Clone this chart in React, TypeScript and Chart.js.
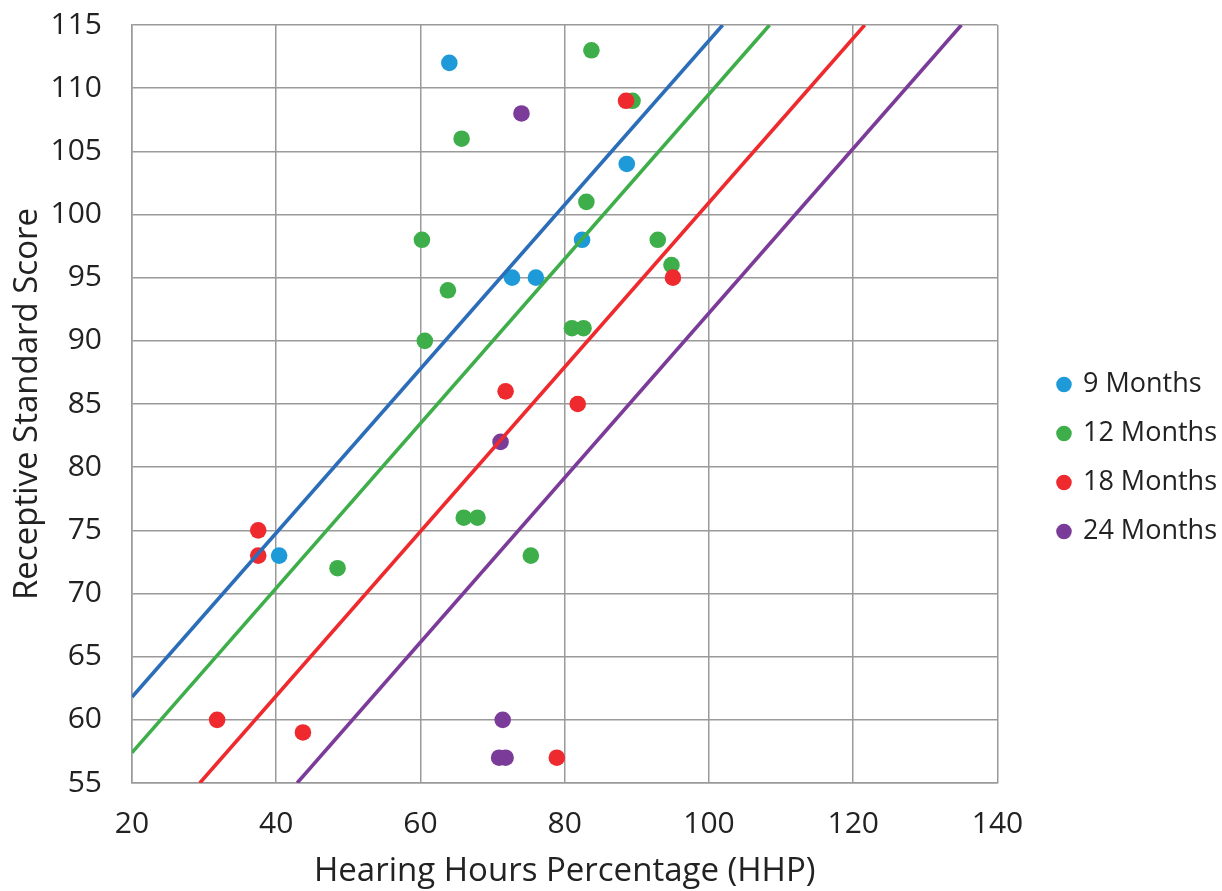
import React, { useEffect, useRef } from "react";
import { Chart, registerables } from "chart.js";

Chart.register(...registerables);

const seriesNames = ["9 Months", "12 Months", "18 Months", "24 Months"];
const pointColors = ["#1E9AD8", "#3DAE49", "#EE2A2E", "#7B3B98"];
const lineColors = ["#2B6DB8", "#3DAE49", "#EE2A2E", "#7B3B98"];

const hhp9 = [64, 88.6, 82.4, 72.7, 76, 40.4];
const score9 = [112, 104, 98, 95, 95, 73];

const hhp12 = [83.7, 89.4, 65.7, 83, 60.2, 92.9, 94.8, 63.8, 81, 82.6, 60.6, 66, 67.9, 48.5, 75.3];
const score12 = [113, 109, 106, 101, 98, 98, 96, 94, 91, 91, 90, 76, 76, 72, 73];

const hhp18 = [88.5, 95, 71.8, 81.8, 37.5, 37.5, 31.8, 43.7, 78.9];
const score18 = [109, 95, 86, 85, 75, 73, 60, 59, 57];

const hhp24 = [74, 71.1, 71.4, 70.9, 71.8];
const score24 = [108, 82, 60, 57, 57];

// trend line endpoints (HHP, score)
const trendX = [
  [20, 101.9],
  [20, 108.4],
  [29.4, 121.6],
  [42.9, 135],
];
const trendY = [
  [61.8, 115],
  [57.4, 115],
  [55, 115],
  [55, 115],
];

const xTicks = [20, 40, 60, 80, 100, 120, 140];
const xTitle = "Hearing Hours Percentage (HHP)";
const yTitle = "Receptive Standard Score";

const FONT = "'Open Sans', 'Noto Sans', sans-serif";

const legendShift = {
  id: "legendShift",
  afterLayout(chart: any) {
    const lg = chart.legend;
    if (lg) {
      lg.left += 39;
      lg.right += 39;
    }
  },
};

export default function App() {
  const ref = useRef<HTMLCanvasElement | null>(null);

  useEffect(() => {
    if (!ref.current) return;
    const xs = [hhp9, hhp12, hhp18, hhp24];
    const ys = [score9, score12, score18, score24];
    const pointSets = xs.map((xv, i) => ({
      type: "scatter" as const,
      label: seriesNames[i],
      data: xv.map((x, j) => ({ x, y: ys[i][j] })),
      backgroundColor: pointColors[i],
      borderColor: pointColors[i],
      pointRadius: 8.3,
      pointHoverRadius: 8.3,
      borderWidth: 0,
      order: 20 - i,
    }));
    const lineSets = trendX.map((tx, i) => ({
      type: "line" as const,
      label: "trend " + seriesNames[i],
      data: tx.map((x, j) => ({ x, y: trendY[i][j] })),
      borderColor: lineColors[i],
      backgroundColor: lineColors[i],
      borderWidth: 3.6,
      pointRadius: 0,
      fill: false,
      tension: 0,
      order: 10 - i,
    }));

    const chart = new Chart(ref.current, {
      type: "scatter",
      data: { datasets: [...pointSets, ...lineSets] as any },
      plugins: [legendShift],
      options: {
        animation: false,
        responsive: false,
        maintainAspectRatio: false,
        layout: { padding: { top: 25, right: 34, bottom: 0, left: 0 } },
        plugins: {
          tooltip: { enabled: false },
          legend: {
            position: "right",
            align: "center",
            labels: {
              usePointStyle: true,
              pointStyle: "circle",
              boxWidth: 11,
              boxHeight: 11,
              padding: 22,
              color: "#222",
              font: { family: FONT, size: 27 },
              filter: (item: any) => item.datasetIndex < 4,
              sort: (a: any, b: any) => a.datasetIndex - b.datasetIndex,
            },
          },
        },
        scales: {
          x: {
            type: "linear",
            min: 20,
            max: 140,
            afterBuildTicks: (axis: any) => {
              axis.ticks = xTicks.map((v) => ({ value: v }));
            },
            afterFit: (axis: any) => {
              axis.height = 108;
              axis.paddingLeft = 0;
              axis.paddingRight = 0;
            },
            grid: { color: "#9a9a9a", lineWidth: 1.5, drawTicks: false },
            border: { color: "#9a9a9a", width: 1.5 },
            ticks: { color: "#222", font: { family: FONT, size: 30 }, padding: 23 },
            title: {
              display: true,
              text: xTitle,
              color: "#222",
              font: { family: FONT, size: 33 },
              padding: { top: 4, bottom: 0 },
            },
          },
          y: {
            type: "linear",
            min: 55,
            max: 115,
            ticks: { stepSize: 5, color: "#222", font: { family: FONT, size: 30 }, padding: 30 },
            afterFit: (axis: any) => {
              axis.width = 132;
              axis.paddingTop = 0;
              axis.paddingBottom = 0;
            },
            grid: { color: "#9a9a9a", lineWidth: 1.5, drawTicks: false },
            border: { color: "#9a9a9a", width: 1.5 },
            title: {
              display: true,
              text: yTitle,
              color: "#222",
              font: { family: FONT, size: 33 },
              padding: { top: 8, bottom: 0 },
            },
          },
        },
      },
    });
    return () => chart.destroy();
  }, []);

  return (
    <div style={{ position: "fixed", left: 0, top: 0, width: 1222, height: 891, background: "#fff" }}>
      <canvas ref={ref} width={1222} height={891} style={{ width: 1222, height: 891 }} />
    </div>
  );
}
